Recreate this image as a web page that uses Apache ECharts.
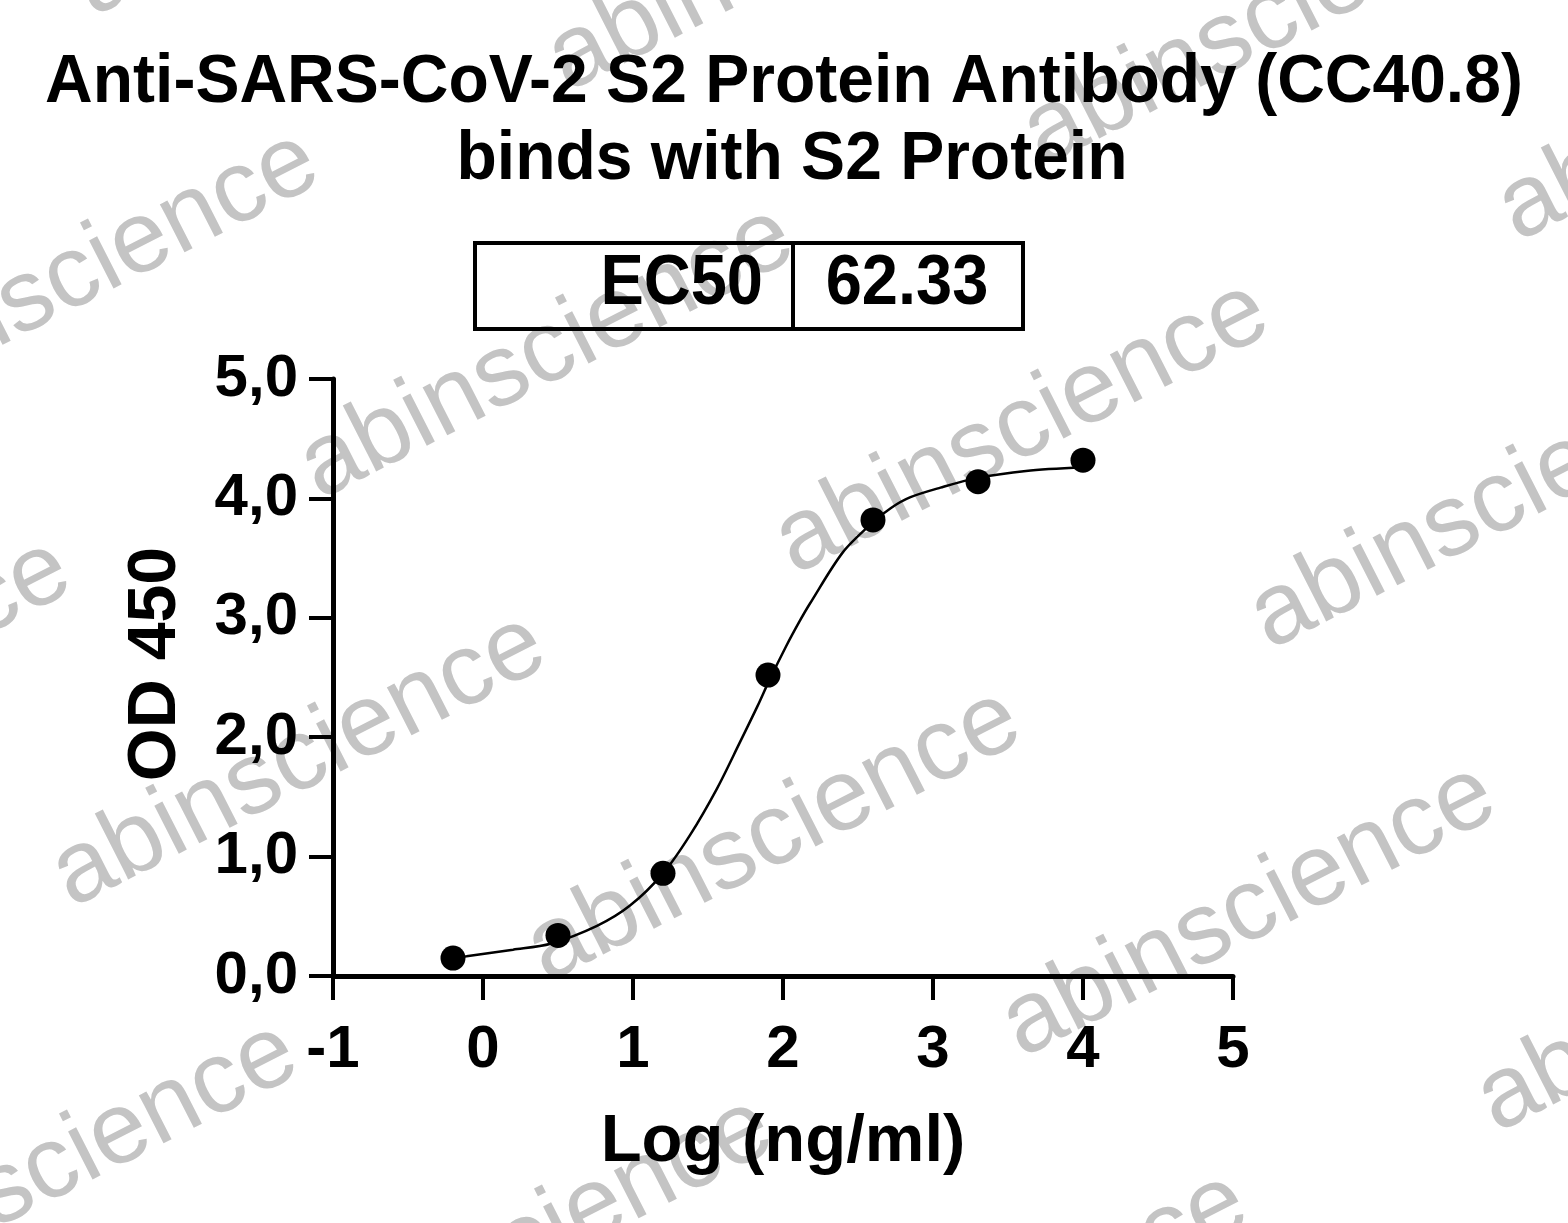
<!DOCTYPE html>
<html>
<head>
<meta charset="utf-8">
<script src="https://cdn.jsdelivr.net/npm/echarts@6/dist/echarts.min.js"></script>
<style>
html,body{margin:0;padding:0;background:#fff;}
#chart{width:1568px;height:1223px;}
</style>
</head>
<body>
<div id="chart"></div>
<script>
// ---- data ----
const titleLines = ['Anti-SARS-CoV-2 S2 Protein Antibody (CC40.8)', 'binds with S2 Protein'];
const ec50Label = 'EC50';
const ec50Value = '62.33';
const xAxisTitle = 'Log (ng/ml)';
const yAxisTitle = 'OD 450';
const xTickValues = [-1, 0, 1, 2, 3, 4, 5];
const yTickValues = [0, 1, 2, 3, 4, 5];
// measured points
const logConc = [-0.2, 0.5, 1.2, 1.9, 2.6, 3.3, 4.0];
const od450 = [0.15, 0.34, 0.86, 2.52, 3.82, 4.14, 4.32];
// fitted curve
const fitX = [-0.2, -0.11, 0.2, 0.45, 0.76, 0.98, 1.2, 1.38, 1.56, 1.71, 1.83, 1.91, 2.02, 2.11, 2.18, 2.4, 2.6, 2.72, 2.85, 3.05, 3.29, 3.62, 4.0];
const fitY = [0.15, 0.165, 0.22, 0.27, 0.42, 0.59, 0.86, 1.18, 1.57, 1.95, 2.26, 2.48, 2.76, 2.97, 3.12, 3.55, 3.80, 3.92, 4.01, 4.09, 4.17, 4.23, 4.26];
const watermarkText = 'abinscience';

const FONT = '"Liberation Sans", Arial, Helvetica, sans-serif';
const chart = echarts.init(document.getElementById('chart'), null, {renderer: 'canvas'});

// watermark tiling
const wm = [];
const base = [1022, 428], u = [475, 75], v = [-248, 408];
for (let i = -4; i <= 4; i++) {
  for (let j = -3; j <= 4; j++) {
    const cx = base[0] + i * u[0] + j * v[0];
    const cy = base[1] + i * u[1] + j * v[1];
    if (cx < -350 || cx > 1920 || cy < -200 || cy > 1420) continue;
    wm.push({
      type: 'text', x: cx, y: cy, rotation: 27 * Math.PI / 180, z: -10, silent: true,
      style: {text: watermarkText, fill: '#c4c4c4', font: 'normal 102px ' + FONT,
              textAlign: 'center', textVerticalAlign: 'middle'}
    });
  }
}

const boxL = 475, boxT = 243, boxR = 1023, boxB = 329, boxDiv = 793;
const graphics = wm.concat([
  {type: 'text', x: 784, y: 83, z: 10, scaleY: 1.04, style: {text: titleLines[0], font: 'bold 66px ' + FONT, fill: '#000', textAlign: 'center', textVerticalAlign: 'middle'}},
  {type: 'text', x: 792, y: 160, z: 10, scaleY: 1.04, style: {text: titleLines[1], font: 'bold 66px ' + FONT, fill: '#000', textAlign: 'center', textVerticalAlign: 'middle'}},
  {type: 'rect', z: 10, shape: {x: boxL, y: boxT, width: boxR - boxL, height: boxB - boxT}, style: {fill: 'none', stroke: '#000', lineWidth: 4}},
  {type: 'line', z: 10, shape: {x1: boxDiv, y1: boxT, x2: boxDiv, y2: boxB}, style: {stroke: '#000', lineWidth: 4}},
  {type: 'text', x: 763, y: 285, z: 10, scaleY: 1.08, style: {text: ec50Label, font: 'bold 65px ' + FONT, fill: '#000', textAlign: 'right', textVerticalAlign: 'middle'}},
  {type: 'text', x: 907, y: 285, z: 10, scaleY: 1.08, style: {text: ec50Value, font: 'bold 65px ' + FONT, fill: '#000', textAlign: 'center', textVerticalAlign: 'middle'}},
  {type: 'text', x: 156, y: 664, z: 10, rotation: Math.PI / 2, style: {text: yAxisTitle, font: 'bold 68px ' + FONT, fill: '#000', textAlign: 'center', textVerticalAlign: 'middle'}},
  {type: 'text', x: 783, y: 1143, z: 10, style: {text: xAxisTitle, font: 'bold 67px ' + FONT, fill: '#000', textAlign: 'center', textVerticalAlign: 'middle'}}
]);

const fitData = fitX.map((x, k) => [x, fitY[k]]);
const ptData = logConc.map((x, k) => [x, od450[k]]);

chart.setOption({
  backgroundColor: '#fff',
  animation: false,
  grid: {left: 333, top: 379, width: 900, height: 597, containLabel: false},
  xAxis: {
    type: 'value', min: xTickValues[0], max: xTickValues[xTickValues.length - 1], interval: 1,
    axisLine: {show: true, onZero: false, lineStyle: {color: '#000', width: 5}},
    axisTick: {show: true, inside: false, length: 24, lineStyle: {color: '#000', width: 4}},
    axisLabel: {show: true, margin: 44, fontFamily: FONT, fontWeight: 'bold', fontSize: 60, color: '#000',
      formatter: (val) => String(val)},
    splitLine: {show: false}
  },
  yAxis: {
    type: 'value', min: yTickValues[0], max: yTickValues[yTickValues.length - 1], interval: 1,
    axisLine: {show: true, onZero: false, lineStyle: {color: '#000', width: 5}},
    axisTick: {show: true, inside: false, length: 24, lineStyle: {color: '#000', width: 4}},
    axisLabel: {show: true, margin: 35, fontFamily: FONT, fontWeight: 'bold', fontSize: 60, color: '#000',
      formatter: (val) => val.toFixed(1).replace('.', ',')},
    splitLine: {show: false}
  },
  graphic: graphics,
  series: [
    {type: 'line', data: fitData, smooth: 0.3, showSymbol: false, z: 5,
     lineStyle: {color: '#000', width: 2.5}, silent: true},
    {type: 'scatter', data: ptData, symbol: 'circle', symbolSize: 25, z: 6,
     itemStyle: {color: '#000', opacity: 1}, silent: true}
  ]
});
</script>
</body>
</html>
